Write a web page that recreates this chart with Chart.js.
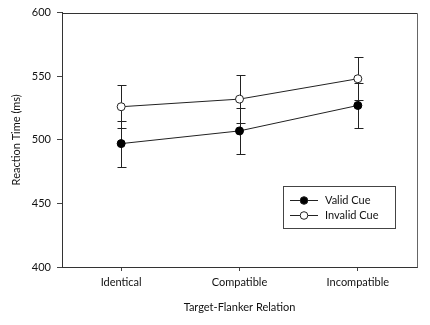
<!DOCTYPE html>
<html>
<head>
<meta charset="utf-8">
<script src="https://cdn.jsdelivr.net/npm/chart.js@4/dist/chart.umd.min.js"></script>
<style>
html,body{margin:0;padding:0;background:#fff;}
#wrap{width:430px;height:325px;position:relative;}
</style>
</head>
<body>
<div id="wrap"><canvas id="c" width="430" height="325"></canvas></div>
<script>
const categories = ["Identical", "Compatible", "Incompatible"];
const validCue = [497, 507, 527];
const validErr = [18, 18, 18];
const invalidCue = [526, 532, 548];
const invalidErr = [17, 19, 17];
const yTicks = [400, 450, 500, 550, 600];
const seriesNames = ["Valid Cue", "Invalid Cue"];

const FONT = "Lato, 'Open Sans', sans-serif";

const errorBars = {
  id: 'errorBars',
  beforeDatasetsDraw(chart) {
    const ctx = chart.ctx;
    const ys = chart.scales.y;
    ctx.save();
    ctx.strokeStyle = '#222';
    ctx.lineWidth = 1;
    chart.data.datasets.forEach((ds, i) => {
      const meta = chart.getDatasetMeta(i);
      meta.data.forEach((pt, j) => {
        const x = Math.round(pt.x) + 0.5;
        const e = ds.err[j];
        const yTop = Math.round(ys.getPixelForValue(ds.data[j] + e)) + 0.5;
        const yBot = Math.round(ys.getPixelForValue(ds.data[j] - e)) + 0.5;
        ctx.beginPath();
        ctx.moveTo(x, yTop); ctx.lineTo(x, yBot);
        ctx.moveTo(x - 4, yTop); ctx.lineTo(x + 5, yTop);
        ctx.moveTo(x - 4, yBot); ctx.lineTo(x + 5, yBot);
        ctx.stroke();
      });
    });
    ctx.restore();
  }
};

const frameAndLegend = {
  id: 'frameAndLegend',
  afterDraw(chart) {
    const ctx = chart.ctx;
    const a = chart.chartArea;
    ctx.save();
    ctx.lineWidth = 1;
    ctx.strokeStyle = '#333';
    ctx.beginPath();
    ctx.moveTo(Math.round(a.left) + 0.5, Math.round(a.top) + 0.5);
    ctx.lineTo(Math.round(a.right) + 0.5, Math.round(a.top) + 0.5);
    ctx.stroke();
    ctx.strokeStyle = '#666';
    ctx.beginPath();
    ctx.moveTo(Math.round(a.right) + 0.5, Math.round(a.top) + 0.5);
    ctx.lineTo(Math.round(a.right) + 0.5, Math.round(a.bottom) + 0.5);
    ctx.stroke();

    // legend box
    const bx = 283.5, by = 186.5, bw = 112, bh = 42;
    ctx.strokeStyle = '#444';
    ctx.strokeRect(bx, by, bw, bh);
    const rows = [200, 215];
    ctx.font = '11px ' + FONT;
    ctx.textBaseline = 'middle';
    ctx.textAlign = 'left';
    chart.data.datasets.forEach((ds, i) => {
      const y = rows[i] + 0.5;
      ctx.strokeStyle = '#222';
      ctx.beginPath();
      ctx.moveTo(290, y); ctx.lineTo(318, y);
      ctx.stroke();
      ctx.beginPath();
      ctx.arc(304, y, 3.8, 0, Math.PI * 2);
      ctx.fillStyle = ds.pointBackgroundColor;
      ctx.fill();
      ctx.stroke();
      ctx.fillStyle = '#111';
      ctx.fillText(seriesNames[i], 325, rows[i]);
    });
    ctx.restore();
  }
};

new Chart(document.getElementById('c'), {
  type: 'line',
  data: {
    labels: categories,
    datasets: [
      {
        label: seriesNames[0], data: validCue, err: validErr,
        borderColor: '#222', borderWidth: 1,
        pointBackgroundColor: '#000', pointBorderColor: '#000',
        pointRadius: 4, pointBorderWidth: 1, tension: 0
      },
      {
        label: seriesNames[1], data: invalidCue, err: invalidErr,
        borderColor: '#222', borderWidth: 1,
        pointBackgroundColor: '#fff', pointBorderColor: '#222',
        pointRadius: 4, pointBorderWidth: 1, tension: 0
      }
    ]
  },
  options: {
    responsive: false,
    animation: false,
    devicePixelRatio: 1,
    layout: { padding: { left: 0, top: 12, right: 13, bottom: 0 } },
    plugins: { legend: { display: false }, tooltip: { enabled: false } },
    scales: {
      x: {
        type: 'category',
        offset: true,
        grid: { drawOnChartArea: false, tickLength: 4, color: '#444', offset: false },
        border: { color: '#333', width: 1 },
        ticks: { color: '#111', font: { family: FONT, size: 11 }, padding: 5, maxRotation: 0 },
        title: { display: true, text: 'Target-Flanker Relation', color: '#111', font: { family: FONT, size: 11 }, padding: { top: 0, bottom: 11 } },
        afterFit(s) { s.height = 58; }
      },
      y: {
        min: 400, max: 600,
        afterBuildTicks(s) { s.ticks = yTicks.map(v => ({ value: v })); },
        grid: { drawOnChartArea: false, tickLength: 5, color: '#444' },
        border: { color: '#333', width: 1 },
        ticks: { color: '#111', font: { family: FONT, size: 11 }, padding: 6 },
        title: { display: true, text: 'Reaction Time (ms)', color: '#111', font: { family: FONT, size: 11 }, padding: { top: 10, bottom: 0 } },
        afterFit(s) { s.width = 62; }
      }
    }
  },
  plugins: [errorBars, frameAndLegend]
});
</script>
</body>
</html>
